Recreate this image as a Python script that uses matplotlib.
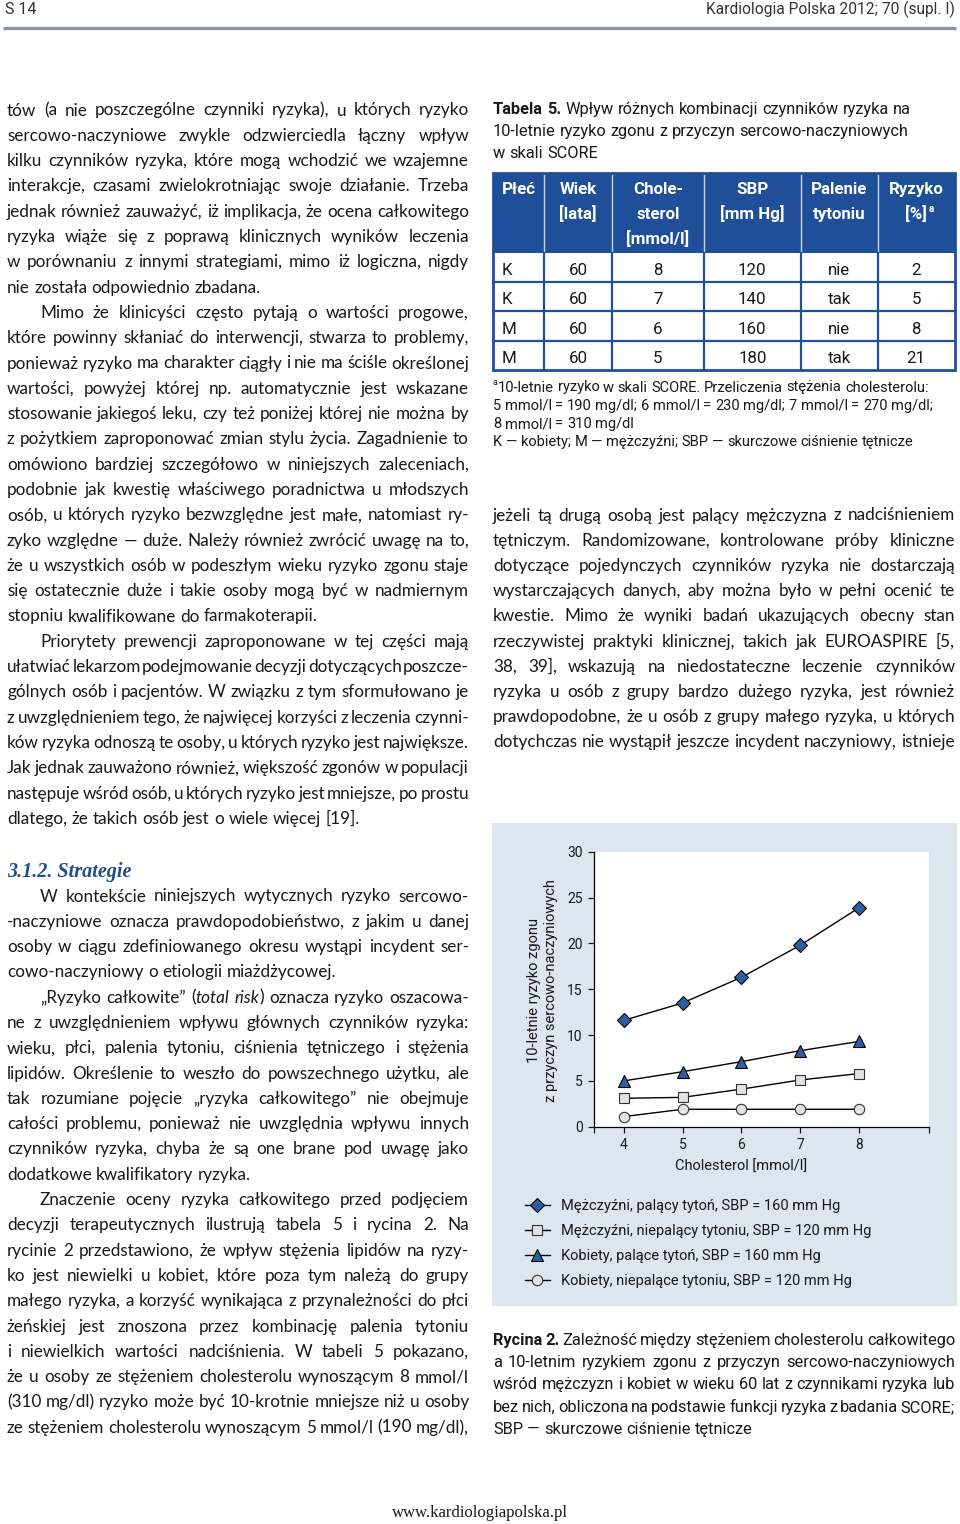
import matplotlib
matplotlib.use('Agg')
import matplotlib.pyplot as plt
from matplotlib.patches import Rectangle

W, H = 960, 1524

BODY = ['Lato', 'DejaVu Sans']
SANS = ['Roboto', 'DejaVu Sans']
COND = ['Liberation Sans Narrow', 'Roboto', 'DejaVu Sans']
SERIF = ['Liberation Serif', 'DejaVu Serif']
INK = '#1a1819'
BLUE = '#1f4f99'
MBLUE = '#2d5fa0'
PANEL = '#dde5ee'

# --- Rycina 2: dane wykresu ---
cholesterol = [4, 5, 6, 7, 8]
m_smoke_160 = [11.6, 13.5, 16.3, 19.8, 23.9]
m_nosmoke_120 = [3.1, 3.2, 4.1, 5.1, 5.8]
k_smoke_160 = [5.0, 6.0, 7.1, 8.3, 9.3]
k_nosmoke_120 = [1.1, 1.9, 1.9, 1.9, 1.9]
series_names = ['Mężczyźni, palący tytoń, SBP = 160 mm Hg',
                'Mężczyźni, niepalący tytoniu, SBP = 120 mm Hg',
                'Kobiety, palące tytoń, SBP = 160 mm Hg',
                'Kobiety, niepalące tytoniu, SBP = 120 mm Hg']
y_ticks = [0, 5, 10, 15, 20, 25, 30]

# --- Tabela 5 ---
tab_head = ['Płeć', 'Wiek\n[lata]', 'Chole-\nsterol\n[mmol/l]', 'SBP\n[mm Hg]',
            'Palenie\ntytoniu', 'Ryzyko\n[%]']
plec = ['K', 'K', 'M', 'M']
wiek = [60, 60, 60, 60]
chol_tab = [8, 7, 6, 5]
sbp = [120, 140, 160, 180]
palenie = ['nie', 'tak', 'nie', 'tak']
ryzyko = [2, 5, 8, 21]

# --- teksty ---
left_pars = [
    (False, ['tów (a nie poszczególne czynniki ryzyka), u których ryzyko',
             'sercowo-naczyniowe zwykle odzwierciedla łączny wpływ',
             'kilku czynników ryzyka, które mogą wchodzić we wzajemne',
             'interakcje, czasami zwielokrotniając swoje działanie. Trzeba',
             'jednak również zauważyć, iż implikacja, że ocena całkowitego',
             'ryzyka wiąże się z poprawą klinicznych wyników leczenia',
             'w porównaniu z innymi strategiami, mimo iż logiczna, nigdy',
             'nie została odpowiednio zbadana.']),
    (True, ['Mimo że klinicyści często pytają o wartości progowe,',
            'które powinny skłaniać do interwencji, stwarza to problemy,',
            'ponieważ ryzyko ma charakter ciągły i nie ma ściśle określonej',
            'wartości, powyżej której np. automatycznie jest wskazane',
            'stosowanie jakiegoś leku, czy też poniżej której nie można by',
            'z pożytkiem zaproponować zmian stylu życia. Zagadnienie to',
            'omówiono bardziej szczegółowo w niniejszych zaleceniach,',
            'podobnie jak kwestię właściwego poradnictwa u młodszych',
            'osób, u których ryzyko bezwzględne jest małe, natomiast ry-',
            'zyko względne — duże. Należy również zwrócić uwagę na to,',
            'że u wszystkich osób w podeszłym wieku ryzyko zgonu staje',
            'się ostatecznie duże i takie osoby mogą być w nadmiernym',
            'stopniu kwalifikowane do farmakoterapii.']),
    (True, ['Priorytety prewencji zaproponowane w tej części mają',
            'ułatwiać lekarzom podejmowanie decyzji dotyczących poszcze-',
            'gólnych osób i pacjentów. W związku z tym sformułowano je',
            'z uwzględnieniem tego, że najwięcej korzyści z leczenia czynni-',
            'ków ryzyka odnoszą te osoby, u których ryzyko jest największe.',
            'Jak jednak zauważono również, większość zgonów w populacji',
            'następuje wśród osób, u których ryzyko jest mniejsze, po prostu',
            'dlatego, że takich osób jest o wiele więcej [19].']),
]
strat_pars = [
    (True, ['W kontekście niniejszych wytycznych ryzyko sercowo-',
            '-naczyniowe oznacza prawdopodobieństwo, z jakim u danej',
            'osoby w ciągu zdefiniowanego okresu wystąpi incydent ser-',
            'cowo-naczyniowy o etiologii miażdżycowej.']),
    (True, ['„Ryzyko całkowite” (*total risk*) oznacza ryzyko oszacowa-',
            'ne z uwzględnieniem wpływu głównych czynników ryzyka:',
            'wieku, płci, palenia tytoniu, ciśnienia tętniczego i stężenia',
            'lipidów. Określenie to weszło do powszechnego użytku, ale',
            'tak rozumiane pojęcie „ryzyka całkowitego” nie obejmuje',
            'całości problemu, ponieważ nie uwzględnia wpływu innych',
            'czynników ryzyka, chyba że są one brane pod uwagę jako',
            'dodatkowe kwalifikatory ryzyka.']),
    (True, ['Znaczenie oceny ryzyka całkowitego przed podjęciem',
            'decyzji terapeutycznych ilustrują tabela 5 i rycina 2. Na',
            'rycinie 2 przedstawiono, że wpływ stężenia lipidów na ryzy-',
            'ko jest niewielki u kobiet, które poza tym należą do grupy',
            'małego ryzyka, a korzyść wynikająca z przynależności do płci',
            'żeńskiej jest znoszona przez kombinację palenia tytoniu',
            'i niewielkich wartości nadciśnienia. W tabeli 5 pokazano,',
            'że u osoby ze stężeniem cholesterolu wynoszącym 8 mmol/l',
            '(310 mg/dl) ryzyko może być 10-krotnie mniejsze niż u osoby',
            'ze stężeniem cholesterolu wynoszącym 5 mmol/l (190 mg/dl),']),
]
right_body = ['jeżeli tą drugą osobą jest palący mężczyzna z nadciśnieniem',
              'tętniczym. Randomizowane, kontrolowane próby kliniczne',
              'dotyczące pojedynczych czynników ryzyka nie dostarczają',
              'wystarczających danych, aby można było w pełni ocenić te',
              'kwestie. Mimo że wyniki badań ukazujących obecny stan',
              'rzeczywistej praktyki klinicznej, takich jak EUROASPIRE [5,',
              '38, 39], wskazują na niedostateczne leczenie czynników',
              'ryzyka u osób z grupy bardzo dużego ryzyka, jest również',
              'prawdopodobne, że u osób z grupy małego ryzyka, u których',
              'dotychczas nie wystąpił jeszcze incydent naczyniowy, istnieje']
tab_caption = ['#Tabela 5.# Wpływ różnych kombinacji czynników ryzyka na',
               '10-letnie ryzyko zgonu z przyczyn sercowo-naczyniowych',
               'w skali SCORE']
tab_notes = ['10-letnie ryzyko w skali SCORE. Przeliczenia stężenia cholesterolu:',
             '5 mmol/l = 190 mg/dl; 6 mmol/l = 230 mg/dl; 7 mmol/l = 270 mg/dl;',
             '8 mmol/l = 310 mg/dl',
             'K — kobiety; M — mężczyźni; SBP — skurczowe ciśnienie tętnicze']
fig_caption = ['#Rycina 2.# Zależność między stężeniem cholesterolu całkowitego',
               'a 10-letnim ryzykiem zgonu z przyczyn sercowo-naczyniowych',
               'wśród mężczyzn i kobiet w wieku 60 lat z czynnikami ryzyka lub',
               'bez nich, obliczona na podstawie funkcji ryzyka z badania SCORE;',
               'SBP — skurczowe ciśnienie tętnicze']

fig = plt.figure(figsize=(W / 100, H / 100), dpi=100)
page = fig.add_axes([0, 0, 1, 1], zorder=0)
page.set_xlim(0, W)
page.set_ylim(H, 0)
page.axis('off')
rend = fig.canvas.get_renderer()

_cache = {}


def tw(s, size, family, it=False, bd=False):
    key = (s, size, tuple(family), it, bd)
    if key not in _cache:
        t = page.text(0, 0, s, fontsize=size, family=family,
                      style='italic' if it else 'normal',
                      weight='bold' if bd else 'normal')
        _cache[key] = t.get_window_extent(rend).width
        t.remove()
    return _cache[key]


def parse(line):
    words, cur, buf = [], [], ''
    it = bd = False
    for ch in line + ' ':
        if ch in '*# ':
            if buf:
                cur.append((buf, it, bd))
                buf = ''
            if ch == '*':
                it = not it
            elif ch == '#':
                bd = not bd
            elif cur:
                words.append(cur)
                cur = []
        else:
            buf += ch
    return words


def natural(line, size, family):
    words = parse(line)
    tot = sum(tw(t, size, family, i, b) for w in words for t, i, b in w)
    sp = tw('n n', size, family) - tw('nn', size, family)
    return tot, sp, len(words)


def fit_size(lines, avail, size, family, min_gap=0.45):
    # zmniejsz rozmiar, jeśli któryś wiersz nie mieści się w kolumnie
    r = 1.0
    for line in lines:
        tot, sp, n = natural(line, size, family)
        r = max(r, (tot + (n - 1) * sp * min_gap) / avail)
    return size / r


def draw_line(line, x0, x1, y, size, family, color=INK, justify=True):
    words = parse(line)
    ws = [[tw(t, size, family, i, b) for t, i, b in w] for w in words]
    tot = sum(sum(w) for w in ws)
    sp = tw('n n', size, family) - tw('nn', size, family)
    if justify and len(words) > 1:
        gap = (x1 - x0 - tot) / (len(words) - 1)
    else:
        gap = sp
    x = x0
    for w, wl in zip(words, ws):
        for (t, i, b), wi in zip(w, wl):
            page.text(x, y, t, fontsize=size, family=family, color=color,
                      style='italic' if i else 'normal',
                      weight='bold' if b else 'normal',
                      ha='left', va='baseline')
            x += wi
        x += gap


def draw_pars(pars, x0, x1, y, step, size, family, indent=33, last_justify=False):
    for n, (ind, lines) in enumerate(pars):
        for k, line in enumerate(lines):
            last = k == len(lines) - 1
            just = (not last) or (last_justify and n == len(pars) - 1)
            draw_line(line, x0 + (indent if (ind and k == 0) else 0), x1, y,
                      size, family, justify=just)
            y += step
    return y


# nagłówek strony
page.text(5, 14, 'S 14', fontsize=11.5, family=COND, color='#333333', va='baseline')
page.text(955, 14, 'Kardiologia Polska 2012; 70 (supl. I)', fontsize=11.2,
          family=COND, color='#333333', va='baseline', ha='right')
page.plot([3, 956], [28, 28], color='#8696ab', lw=2.4, solid_capstyle='butt')

# tekst główny
all_body = [l for _, ls in left_pars + strat_pars for l in ls] + right_body
BS = fit_size(all_body, 462, 13.0, BODY)

draw_pars(left_pars, 7, 469, 115.5, 25.3, BS, BODY)
page.text(7, 876.5, '3.1.2. Strategie', fontsize=14.5, family=SERIF,
          style='italic', weight='bold', color='#1f4e8c', va='baseline')
draw_pars(strat_pars, 7, 469, 901.5, 25.3, BS, BODY, last_justify=True)
draw_pars([(False, right_body)], 493, 955, 520.5, 25.2, BS, BODY, last_justify=True)

# tabela 5
TS = 11.8
for k, line in enumerate(tab_caption):
    draw_line(line, 493, 955, 114 + k * 22, TS, SANS, justify=False)

col_x = [493, 544.3, 612, 704, 800.7, 877.7, 954.7]
row_y = [172.5, 252.5, 282, 311.3, 340.7, 370]
page.add_patch(Rectangle((col_x[0], row_y[0]), col_x[-1] - col_x[0], row_y[1] - row_y[0],
                         fc=BLUE, ec='none', zorder=1))
for cx in col_x[1:-1]:
    page.plot([cx, cx], [row_y[0], row_y[1]], color='#c9d4e6', lw=1, zorder=2)
    page.plot([cx, cx], [row_y[1], row_y[-1]], color=BLUE, lw=1.6, zorder=2)
for ry in row_y[2:-1]:
    page.plot([col_x[0], col_x[-1]], [ry, ry], color=BLUE, lw=1.6, zorder=2)
page.add_patch(Rectangle((col_x[0], row_y[0]), col_x[-1] - col_x[0], row_y[-1] - row_y[0],
                         fc='none', ec=BLUE, lw=2, zorder=3))

HS = 12.2
head_base = [194.3, 219, 243.7]
for c, label in enumerate(tab_head):
    for k, part in enumerate(label.split('\n')):
        if c == 0:
            page.text(502, head_base[k], part, fontsize=HS, family=SANS, weight='bold',
                      color='white', va='baseline', ha='left', zorder=4)
        else:
            cx = (col_x[c] + col_x[c + 1]) / 2
            page.text(cx, head_base[k], part, fontsize=HS, family=SANS, weight='bold',
                      color='white', va='baseline', ha='center', zorder=4)
            if c == len(tab_head) - 1 and k == 1:
                wpart = tw(part, HS, SANS, bd=True)
                page.text(cx + wpart / 2 + 1, head_base[k] - 7, 'a', fontsize=7,
                          family=SANS, weight='bold', color='white', va='baseline', zorder=4)

rows = list(zip(plec, wiek, chol_tab, sbp, palenie, ryzyko))
for r, vals in enumerate(rows):
    yb = (row_y[r + 1] + row_y[r + 2]) / 2 + 7.5
    for c, v in enumerate(vals):
        if c == 0:
            page.text(502, yb, str(v), fontsize=HS, family=SANS, color=INK,
                      va='baseline', ha='left', zorder=4)
        else:
            page.text((col_x[c] + col_x[c + 1]) / 2, yb, str(v), fontsize=HS,
                      family=SANS, color=INK, va='baseline', ha='center', zorder=4)

NS = 10.5
page.text(493, 385, 'a', fontsize=6.5, family=SANS, color=INK, va='baseline')
for k, line in enumerate(tab_notes):
    draw_line(line, 498 if k == 0 else 493, 955, 391.5 + k * 18.3, NS, SANS, justify=False)

# rycina 2: panel + wykres
page.add_patch(Rectangle((492, 823), 465, 483, fc=PANEL, ec='none', zorder=0))

ax = fig.add_axes([593.7 / W, 1 - 1126.7 / H, 335 / W, 275 / H], zorder=2)
ax.set_facecolor('white')
ax.plot(cholesterol, m_smoke_160, color='black', lw=1, marker='D', ms=7.2,
        mfc=MBLUE, mec='black', mew=0.8, label=series_names[0], clip_on=False)
ax.plot(cholesterol, m_nosmoke_120, color='black', lw=1, marker='s', ms=7.5,
        mfc='#e2e2e2', mec='#333333', mew=0.8, label=series_names[1], clip_on=False)
ax.plot(cholesterol, k_smoke_160, color='black', lw=1, marker='^', ms=8.5,
        mfc=MBLUE, mec='black', mew=0.8, label=series_names[2], clip_on=False)
ax.plot(cholesterol, k_nosmoke_120, color='black', lw=1, marker='o', ms=7.5,
        mfc='#e2e2e2', mec='#333333', mew=0.8, label=series_names[3], clip_on=False)

x_lo, x_hi = 3.49, 9.18
ax.set_xlim(x_lo, x_hi)
ax.set_ylim(0, 30)
ax.set_xticks([x_lo] + cholesterol + [x_hi])
ax.set_xticklabels([''] + [str(v) for v in cholesterol] + [''])
ax.set_yticks(y_ticks)
for s in ['top', 'right']:
    ax.spines[s].set_visible(False)
for s in ['left', 'bottom']:
    ax.spines[s].set_linewidth(0.9)
ax.tick_params(direction='out', length=4, width=0.9, labelsize=10, pad=4, colors=INK)
for lab in ax.get_xticklabels() + ax.get_yticklabels():
    lab.set_family(SANS)

ax.set_xlabel('Cholesterol [mmol/l]', fontsize=10.5, family=SANS, color=INK)
ax.xaxis.set_label_coords((6 - x_lo) / (x_hi - x_lo), -0.12)
ax.set_ylabel('10-letnie ryzyko zgonu\nz przyczyn sercowo-naczyniowych', fontsize=10.5,
              family=SANS, color=INK, linespacing=1.3, va='center')
ax.yaxis.set_label_coords(-0.152, 0.495)

leg = ax.legend(loc='upper left', bbox_to_anchor=(525 / W, 1 - 1199 / H),
                bbox_transform=fig.transFigure, frameon=False, borderpad=0,
                borderaxespad=0, handlelength=1.7, handletextpad=0.75,
                labelspacing=0.76, prop={'family': SANS, 'size': 10.5})
for t in leg.get_texts():
    t.set_color(INK)

CS = 11.8
for k, line in enumerate(fig_caption):
    draw_line(line, 493, 955, 1345 + k * 22.2, CS, SANS, justify=(k < len(fig_caption) - 1))

# stopka
page.text(480, 1517, 'www.kardiologiapolska.pl', fontsize=12, family=SERIF,
          color=INK, ha='center', va='baseline')

fig.savefig('out.png', dpi=100, facecolor='white')
